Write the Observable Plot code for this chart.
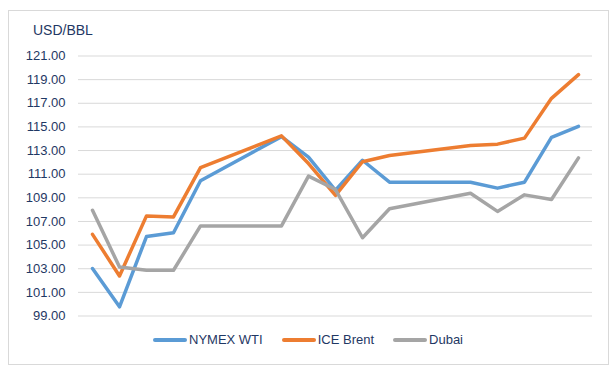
<!DOCTYPE html>
<html>
<head>
<meta charset="utf-8">
<script src="https://cdn.jsdelivr.net/npm/d3@7"></script>
<script src="https://cdn.jsdelivr.net/npm/@observablehq/plot@0.6"></script>
<style>
  html, body { margin: 0; padding: 0; background: #fff; }
  body { width: 616px; height: 372px; position: relative; overflow: hidden; font-family: "Liberation Sans", Arial, sans-serif; }
  #frame { position: absolute; left: 8px; top: 10px; width: 601px; height: 355px; border: 1px solid #d9d9d9; box-sizing: border-box; }
  #title { position: absolute; left: 33px; top: 22px; font-size: 14px; color: #1f3864; }
  #chart { position: absolute; left: 0; top: 40px; }
  #legend { position: absolute; left: 0; width: 616px; top: 332px; display: flex; justify-content: center; gap: 19px; font-size: 13px; color: #1f3864; }
  .item { display: flex; align-items: center; gap: 2px; }
  .swatch { width: 34px; height: 4px; border-radius: 2px; }
</style>
</head>
<body>
<div id="frame"></div>
<div id="title">USD/BBL</div>
<div id="chart"></div>
<div id="legend"></div>
<script>
// Category positions (19 slots; gaps are missing days)
const slots = 19;
const idx = [0, 1, 2, 3, 4, 7, 8, 9, 10, 11, 14, 15, 16, 17, 18];
const seriesNames = ["NYMEX WTI", "ICE Brent", "Dubai"];
const seriesColors = ["#5b9bd5", "#ed7d31", "#a5a5a5"];
const wti   = [103.02, 99.78, 105.72, 106.05, 110.45, 114.18, 112.45, 109.64, 112.18, 110.32, 110.32, 109.82, 110.32, 114.12, 115.05];
const brent = [105.91, 102.39, 107.47, 107.38, 111.56, 114.24, 111.90, 109.20, 112.05, 112.58, 113.42, 113.54, 114.05, 117.42, 119.42];
const dubai = [107.94, 103.15, 102.87, 102.87, 106.62, 106.62, 110.84, 109.70, 105.62, 108.07, 109.39, 107.85, 109.25, 108.86, 112.38];
const yTicks = [99, 101, 103, 105, 107, 109, 111, 113, 115, 117, 119, 121];

const values = [wti, brent, dubai];
const data = [];
seriesNames.forEach((name, s) => {
  idx.forEach((x, i) => data.push({series: name, x, y: values[s][i]}));
});

const plot = Plot.plot({
  width: 616,
  height: 290,
  marginLeft: 78,
  marginRight: 24,
  marginTop: 15.5,
  marginBottom: 14.5,
  style: {fontFamily: "Liberation Sans, Arial, sans-serif", fontSize: "13px", color: "#1f3864", background: "transparent"},
  x: {type: "point", domain: d3.range(slots), padding: 0.5, axis: null},
  y: {domain: [99, 121], ticks: yTicks, tickFormat: d => d.toFixed(2), tickSize: 0, tickPadding: 13, label: null},
  color: {domain: seriesNames, range: seriesColors},
  marks: [
    Plot.ruleY(yTicks, {stroke: "#d9d9d9", strokeWidth: 1}),
    Plot.axisY({ticks: yTicks, tickFormat: d => d.toFixed(2), tickSize: 0, tickPadding: 13, label: null, fill: "#1f3864", fontSize: 13}),
    Plot.line(data, {x: "x", y: "y", z: "series", stroke: "series", strokeWidth: 3.5, strokeLinejoin: "round", strokeLinecap: "round"})
  ]
});
document.getElementById("chart").appendChild(plot);

const legend = document.getElementById("legend");
seriesNames.forEach((name, i) => {
  const item = document.createElement("div");
  item.className = "item";
  const sw = document.createElement("div");
  sw.className = "swatch";
  sw.style.background = seriesColors[i];
  const label = document.createElement("span");
  label.textContent = name;
  item.appendChild(sw);
  item.appendChild(label);
  legend.appendChild(item);
});
</script>
</body>
</html>
